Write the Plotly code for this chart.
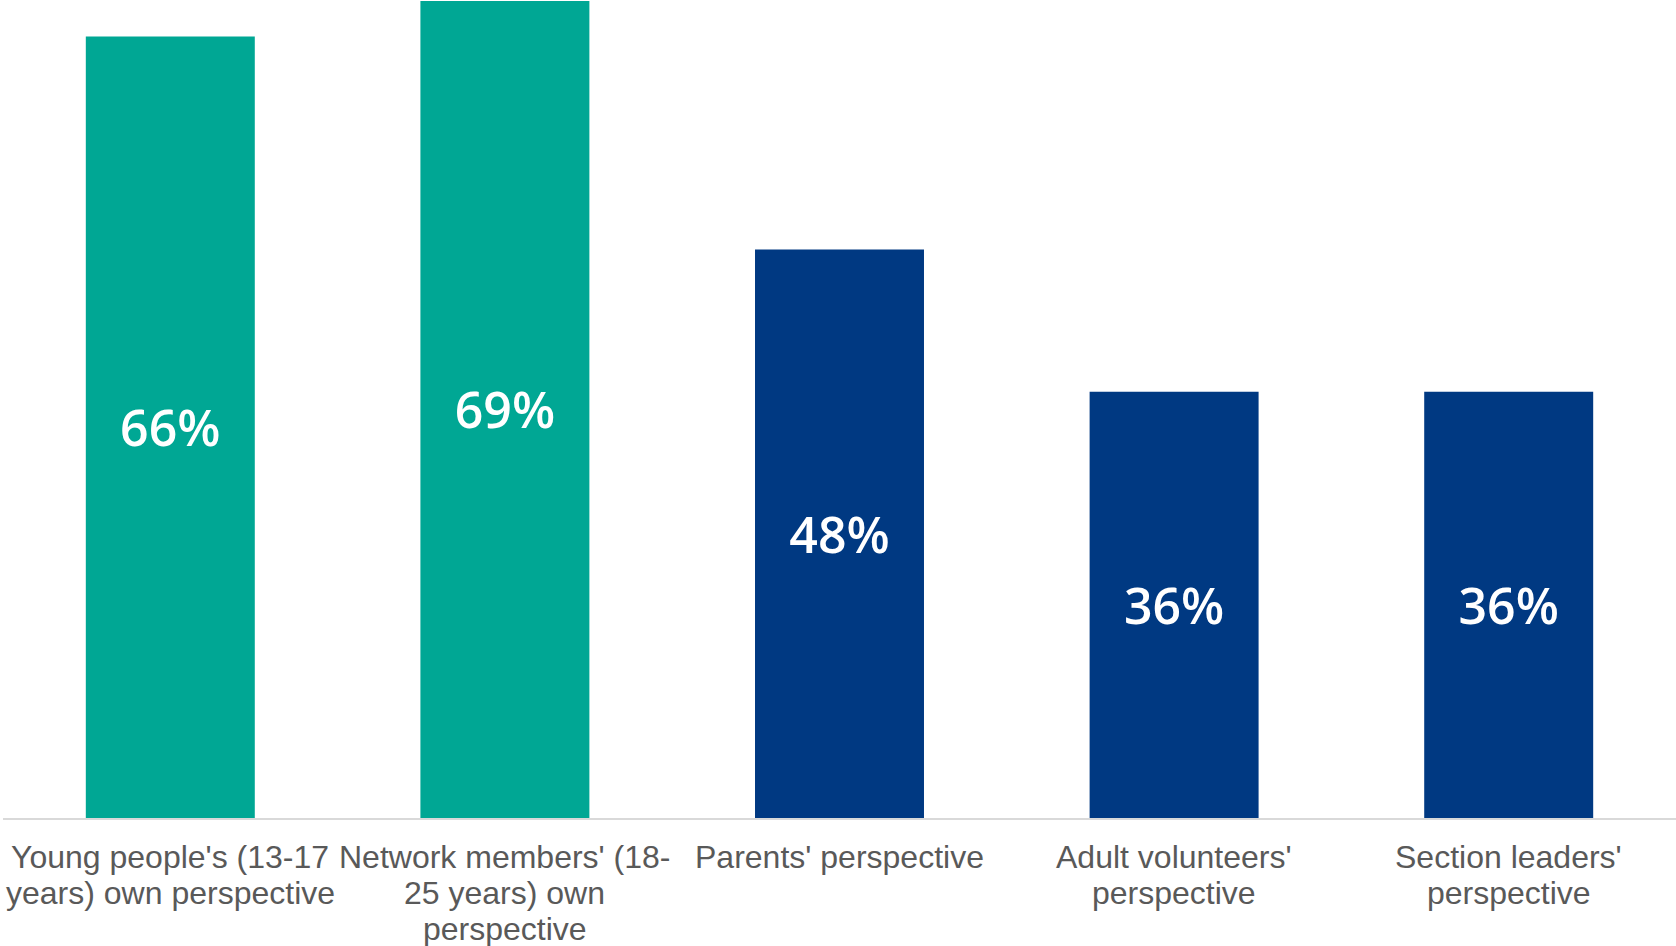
import plotly.graph_objects as go

# Share of each group, by whose perspective was asked
categories = [
    "Young people's (13-17 years) own perspective",
    "Network members' (18-25 years) own perspective",
    "Parents' perspective",
    "Adult volunteers' perspective",
    "Section leaders' perspective",
]
tick_labels = [
    "Young people's (13-17<br>years) own perspective",
    "Network members' (18-<br>25 years) own<br>perspective",
    "Parents' perspective",
    "Adult volunteers'<br>perspective",
    "Section leaders'<br>perspective",
]
values = [66, 69, 48, 36, 36]
bar_colors = ["#00A794", "#00A794", "#003982", "#003982", "#003982"]

fig = go.Figure(
    go.Bar(
        x=categories,
        y=values,
        marker=dict(color=bar_colors, line=dict(width=0)),
        text=[f"{v}%" for v in values],
        textposition="inside",
        insidetextanchor="middle",
        textangle=0,
        constraintext="none",
        textfont=dict(family="Open Sans", size=50, color="white", weight=600),
        hoverinfo="skip",
    )
)

# Category labels: one annotation per wrapped line so the line pitch stays tight
label_font = dict(family="Arial", size=32, color="#595959")
first_line_offset = 39   # px below the axis line to the centre of line 1
line_pitch = 36          # px between successive lines
for cat, label in zip(categories, tick_labels):
    for i, line in enumerate(label.split("<br>")):
        fig.add_annotation(
            x=cat,
            y=0,
            xref="x",
            yref="paper",
            text=line,
            showarrow=False,
            xanchor="center",
            yanchor="middle",
            yshift=-(first_line_offset + i * line_pitch),
            font=label_font,
        )

fig.update_layout(
    width=1676,
    height=946,
    margin=dict(l=3, r=0, t=0, b=128),
    paper_bgcolor="white",
    plot_bgcolor="white",
    bargap=0.495,
    showlegend=False,
)

fig.update_xaxes(
    showticklabels=False,
    showline=True,
    linecolor="#D9D9D9",
    linewidth=2,
    ticks="",
    showgrid=False,
    zeroline=False,
)
fig.update_yaxes(
    range=[0, 69.08],
    visible=False,
    showgrid=False,
    zeroline=False,
)

fig.write_html("out.html")
